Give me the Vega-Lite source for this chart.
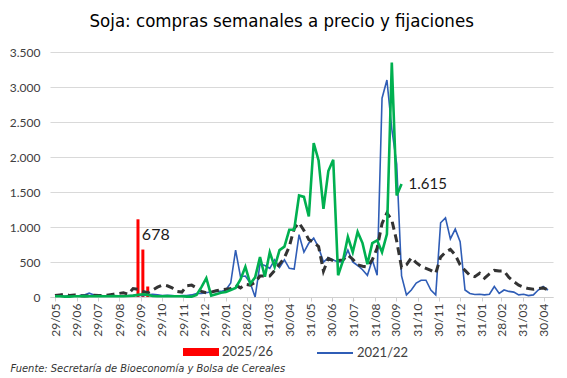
{
  "$schema": "https://vega.github.io/schema/vega-lite/v6.json",
  "width": 503,
  "height": 245,
  "autosize": "none",
  "padding": {"left": 50, "top": 52, "right": 14, "bottom": 81},
  "background": "white",
  "config": {"view": {"stroke": null}},
  "title": {
    "text": "Soja: compras semanales a precio y fijaciones",
    "font": "'DejaVu Sans Condensed', sans-serif",
    "fontSize": 18.5,
    "fontWeight": "normal",
    "color": "#000000",
    "anchor": "middle",
    "frame": "bounds",
    "offset": 16
  },
  "data": {
    "values": [
      {"fecha": "2025-05-29", "c2122": 10, "prom": 20, "c2425": 10},
      {"fecha": "2025-06-05", "c2122": 15, "prom": 30, "c2425": 10},
      {"fecha": "2025-06-12", "c2122": 10, "prom": 40, "c2425": 5},
      {"fecha": "2025-06-19", "c2122": 20, "prom": 20, "c2425": 5},
      {"fecha": "2025-06-26", "c2122": 15, "prom": 30, "c2425": 10},
      {"fecha": "2025-07-03", "c2122": 20, "prom": 20, "c2425": 10},
      {"fecha": "2025-07-10", "c2122": 30, "prom": 15, "c2425": 15},
      {"fecha": "2025-07-17", "c2122": 55, "prom": 20, "c2425": 10},
      {"fecha": "2025-07-24", "c2122": 30, "prom": 25, "c2425": 10},
      {"fecha": "2025-07-31", "c2122": 15, "prom": 20, "c2425": 15},
      {"fecha": "2025-08-07", "c2122": 10, "prom": 20, "c2425": 10},
      {"fecha": "2025-08-14", "c2122": 15, "prom": 30, "c2425": 10},
      {"fecha": "2025-08-21", "c2122": 20, "prom": 40, "c2425": 15},
      {"fecha": "2025-08-28", "c2122": 10, "prom": 50, "c2425": 10},
      {"fecha": "2025-09-04", "c2122": 15, "prom": 60, "c2425": 10},
      {"fecha": "2025-09-11", "c2122": 20, "prom": 40, "c2425": 15},
      {"fecha": "2025-09-18", "c2122": 20, "prom": 120, "c2425": 20, "c2526": 30},
      {"fecha": "2025-09-25", "c2122": 25, "prom": 110, "c2425": 30, "c2526": 1110},
      {"fecha": "2025-10-02", "c2122": 20, "prom": 80, "c2425": 40, "c2526": 678},
      {"fecha": "2025-10-09", "c2122": 30, "prom": 60, "c2425": 30, "c2526": 150},
      {"fecha": "2025-10-16", "c2122": 40, "prom": 100, "c2425": 15},
      {"fecha": "2025-10-23", "c2122": 30, "prom": 140, "c2425": 10},
      {"fecha": "2025-10-30", "c2122": 20, "prom": 170, "c2425": 10},
      {"fecha": "2025-11-06", "c2122": 25, "prom": 160, "c2425": 15},
      {"fecha": "2025-11-13", "c2122": 20, "prom": 130, "c2425": 10},
      {"fecha": "2025-11-20", "c2122": 15, "prom": 80, "c2425": 10},
      {"fecha": "2025-11-27", "c2122": 20, "prom": 70, "c2425": 10},
      {"fecha": "2025-12-04", "c2122": 20, "prom": 160, "c2425": 5},
      {"fecha": "2025-12-11", "c2122": 30, "prom": 170, "c2425": 5},
      {"fecha": "2025-12-18", "c2122": 50, "prom": 130, "c2425": 30},
      {"fecha": "2025-12-25", "c2122": 50, "prom": 80, "c2425": 140},
      {"fecha": "2026-01-01", "c2122": 60, "prom": 60, "c2425": 270},
      {"fecha": "2026-01-08", "c2122": 75, "prom": 70, "c2425": 20},
      {"fecha": "2026-01-15", "c2122": 80, "prom": 90, "c2425": 40},
      {"fecha": "2026-01-22", "c2122": 80, "prom": 100, "c2425": 60},
      {"fecha": "2026-01-29", "c2122": 100, "prom": 110, "c2425": 70},
      {"fecha": "2026-02-05", "c2122": 200, "prom": 120, "c2425": 100},
      {"fecha": "2026-02-12", "c2122": 670, "prom": 170, "c2425": 130},
      {"fecha": "2026-02-19", "c2122": 290, "prom": 130, "c2425": 250},
      {"fecha": "2026-02-26", "c2122": 300, "prom": 180, "c2425": 430},
      {"fecha": "2026-03-05", "c2122": 200, "prom": 170, "c2425": 190},
      {"fecha": "2026-03-12", "c2122": 0, "prom": 210, "c2425": 280},
      {"fecha": "2026-03-19", "c2122": 470, "prom": 300, "c2425": 570},
      {"fecha": "2026-03-26", "c2122": 450, "prom": 300, "c2425": 290},
      {"fecha": "2026-04-02", "c2122": 410, "prom": 300, "c2425": 640},
      {"fecha": "2026-04-09", "c2122": 530, "prom": 380, "c2425": 430},
      {"fecha": "2026-04-16", "c2122": 420, "prom": 470, "c2425": 670},
      {"fecha": "2026-04-23", "c2122": 530, "prom": 560, "c2425": 720},
      {"fecha": "2026-04-30", "c2122": 410, "prom": 720, "c2425": 960},
      {"fecha": "2026-05-07", "c2122": 400, "prom": 980, "c2425": 960},
      {"fecha": "2026-05-14", "c2122": 890, "prom": 1060, "c2425": 1450},
      {"fecha": "2026-05-21", "c2122": 640, "prom": 950, "c2425": 1430},
      {"fecha": "2026-05-28", "c2122": 770, "prom": 820, "c2425": 1150},
      {"fecha": "2026-06-04", "c2122": 840, "prom": 780, "c2425": 2200},
      {"fecha": "2026-06-11", "c2122": 710, "prom": 720, "c2425": 1950},
      {"fecha": "2026-06-18", "c2122": 500, "prom": 370, "c2425": 1260},
      {"fecha": "2026-06-25", "c2122": 560, "prom": 550, "c2425": 1800},
      {"fecha": "2026-07-02", "c2122": 530, "prom": 520, "c2425": 1960},
      {"fecha": "2026-07-09", "c2122": 500, "prom": 520, "c2425": 310},
      {"fecha": "2026-07-16", "c2122": 500, "prom": 530, "c2425": 520},
      {"fecha": "2026-07-23", "c2122": 670, "prom": 600, "c2425": 860},
      {"fecha": "2026-07-30", "c2122": 500, "prom": 540, "c2425": 640},
      {"fecha": "2026-08-06", "c2122": 450, "prom": 460, "c2425": 930},
      {"fecha": "2026-08-13", "c2122": 390, "prom": 440, "c2425": 770},
      {"fecha": "2026-08-20", "c2122": 310, "prom": 430, "c2425": 470},
      {"fecha": "2026-08-27", "c2122": 530, "prom": 530, "c2425": 770},
      {"fecha": "2026-09-03", "c2122": 310, "prom": 700, "c2425": 810},
      {"fecha": "2026-09-10", "c2122": 2840, "prom": 1050, "c2425": 640},
      {"fecha": "2026-09-17", "c2122": 3100, "prom": 1200, "c2425": 900},
      {"fecha": "2026-09-24", "c2122": 2400, "prom": 1100, "c2425": 3350},
      {"fecha": "2026-10-01", "c2122": 1900, "prom": 800, "c2425": 1450},
      {"fecha": "2026-10-08", "c2122": 300, "prom": 420, "c2425": 1615},
      {"fecha": "2026-10-15", "c2122": 30, "prom": 460},
      {"fecha": "2026-10-22", "c2122": 100, "prom": 560},
      {"fecha": "2026-10-29", "c2122": 200, "prom": 490},
      {"fecha": "2026-11-05", "c2122": 240, "prom": 440},
      {"fecha": "2026-11-12", "c2122": 240, "prom": 410},
      {"fecha": "2026-11-19", "c2122": 100, "prom": 380},
      {"fecha": "2026-11-26", "c2122": 30, "prom": 340},
      {"fecha": "2026-12-03", "c2122": 1060, "prom": 570},
      {"fecha": "2026-12-10", "c2122": 1130, "prom": 640},
      {"fecha": "2026-12-17", "c2122": 830, "prom": 680},
      {"fecha": "2026-12-24", "c2122": 970, "prom": 600},
      {"fecha": "2026-12-31", "c2122": 790, "prom": 460},
      {"fecha": "2027-01-07", "c2122": 100, "prom": 380},
      {"fecha": "2027-01-14", "c2122": 50, "prom": 310},
      {"fecha": "2027-01-21", "c2122": 35, "prom": 290},
      {"fecha": "2027-01-28", "c2122": 40, "prom": 340},
      {"fecha": "2027-02-04", "c2122": 30, "prom": 270},
      {"fecha": "2027-02-11", "c2122": 40, "prom": 330},
      {"fecha": "2027-02-18", "c2122": 150, "prom": 380},
      {"fecha": "2027-02-25", "c2122": 50, "prom": 370},
      {"fecha": "2027-03-04", "c2122": 100, "prom": 370},
      {"fecha": "2027-03-11", "c2122": 80, "prom": 280},
      {"fecha": "2027-03-18", "c2122": 70, "prom": 220},
      {"fecha": "2027-03-25", "c2122": 30, "prom": 170},
      {"fecha": "2027-04-01", "c2122": 40, "prom": 140},
      {"fecha": "2027-04-08", "c2122": 20, "prom": 120},
      {"fecha": "2027-04-15", "c2122": 30, "prom": 110},
      {"fecha": "2027-04-22", "c2122": 100, "prom": 120},
      {"fecha": "2027-04-29", "c2122": 150, "prom": 130},
      {"fecha": "2027-05-06", "c2122": 100, "prom": 100}
    ]
  },
  "encoding": {
    "x": {
      "field": "fecha",
      "type": "temporal",
      "scale": {
        "type": "utc",
        "nice": false,
        "domain": [
          {"year": 2025, "month": 5, "date": 29, "utc": true},
          {"year": 2027, "month": 5, "date": 6, "utc": true}
        ]
      },
      "axis": {
        "values": [
          {"year": 2025, "month": 5, "date": 29, "utc": true},
          {"year": 2025, "month": 6, "date": 29, "utc": true},
          {"year": 2025, "month": 7, "date": 29, "utc": true},
          {"year": 2025, "month": 8, "date": 29, "utc": true},
          {"year": 2025, "month": 9, "date": 29, "utc": true},
          {"year": 2025, "month": 10, "date": 29, "utc": true},
          {"year": 2025, "month": 11, "date": 29, "utc": true},
          {"year": 2025, "month": 12, "date": 29, "utc": true},
          {"year": 2026, "month": 1, "date": 29, "utc": true},
          {"year": 2026, "month": 2, "date": 28, "utc": true},
          {"year": 2026, "month": 3, "date": 31, "utc": true},
          {"year": 2026, "month": 4, "date": 30, "utc": true},
          {"year": 2026, "month": 5, "date": 31, "utc": true},
          {"year": 2026, "month": 6, "date": 30, "utc": true},
          {"year": 2026, "month": 7, "date": 31, "utc": true},
          {"year": 2026, "month": 8, "date": 31, "utc": true},
          {"year": 2026, "month": 9, "date": 30, "utc": true},
          {"year": 2026, "month": 10, "date": 31, "utc": true},
          {"year": 2026, "month": 11, "date": 30, "utc": true},
          {"year": 2026, "month": 12, "date": 31, "utc": true},
          {"year": 2027, "month": 1, "date": 31, "utc": true},
          {"year": 2027, "month": 2, "date": 28, "utc": true},
          {"year": 2027, "month": 3, "date": 31, "utc": true},
          {"year": 2027, "month": 4, "date": 30, "utc": true}
        ],
        "labelExpr": "utcFormat(datum.value, '%d/%m')",
        "labelAngle": 270,
        "labelFont": "Lato",
        "labelFontSize": 12,
        "labelColor": "#404040",
        "labelPadding": 2,
        "labelOverlap": false,
        "domainColor": "#d0d0d0",
        "tickColor": "#d0d0d0",
        "tickSize": 4,
        "grid": false,
        "title": "Fuente: Secretaría de Bioeconomía y Bolsa de Cereales",
        "titleFont": "'DejaVu Sans Condensed', sans-serif",
        "titleFontStyle": "italic",
        "titleFontWeight": "normal",
        "titleFontSize": 11,
        "titleColor": "#333333",
        "titleAnchor": "start",
        "titleAlign": "left",
        "titleBaseline": "alphabetic",
        "titleX": -40,
        "titleY": 74
      }
    }
  },
  "layer": [
    {
      "mark": {"type": "bar", "size": 3},
      "encoding": {
        "y": {
          "field": "c2526",
          "type": "quantitative",
          "scale": {"domain": [0, 3500]},
          "axis": {
            "values": [0, 500, 1000, 1500, 2000, 2500, 3000, 3500],
            "labelExpr": "replace(format(datum.value, ','), ',', '.')",
            "labelFont": "Lato",
            "labelFontSize": 12,
            "labelColor": "#404040",
            "labelPadding": 10,
            "labelOverlap": false,
            "domain": false,
            "ticks": false,
            "grid": true,
            "gridColor": "#d9d9d9",
            "title": null
          }
        },
        "color": {
          "datum": "2025/26",
          "scale": {"range": ["#ff0000"]},
          "legend": {
            "orient": "none",
            "legendX": 133,
            "legendY": 282,
            "title": null,
            "symbolType": "M-1,-0.22H1V0.22H-1Z",
            "symbolSize": 1296,
            "symbolStrokeWidth": 0,
            "labelFont": "Lato",
            "labelFontSize": 13,
            "labelColor": "#404040",
            "labelOffset": 3
          }
        }
      }
    },
    {
      "mark": {"type": "line", "strokeWidth": 1.6},
      "encoding": {
        "y": {
          "field": "c2122",
          "type": "quantitative",
          "scale": {"domain": [0, 3500]},
          "axis": {
            "values": [0, 500, 1000, 1500, 2000, 2500, 3000, 3500],
            "labelExpr": "replace(format(datum.value, ','), ',', '.')",
            "labelFont": "Lato",
            "labelFontSize": 12,
            "labelColor": "#404040",
            "labelPadding": 10,
            "labelOverlap": false,
            "domain": false,
            "ticks": false,
            "grid": true,
            "gridColor": "#d9d9d9",
            "title": null
          }
        },
        "stroke": {
          "datum": "2021/22",
          "scale": {"range": ["#2f5db6"]},
          "legend": {
            "orient": "none",
            "legendX": 266,
            "legendY": 282,
            "title": null,
            "symbolType": "stroke",
            "symbolSize": 1296,
            "symbolStrokeWidth": 2,
            "labelFont": "Lato",
            "labelFontSize": 13,
            "labelColor": "#404040",
            "labelOffset": 3
          }
        }
      }
    },
    {
      "mark": {"type": "line", "color": "#333333", "strokeWidth": 3, "strokeDash": [8, 5]},
      "encoding": {
        "y": {
          "field": "prom",
          "type": "quantitative",
          "scale": {"domain": [0, 3500]},
          "axis": {
            "values": [0, 500, 1000, 1500, 2000, 2500, 3000, 3500],
            "labelExpr": "replace(format(datum.value, ','), ',', '.')",
            "labelFont": "Lato",
            "labelFontSize": 12,
            "labelColor": "#404040",
            "labelPadding": 10,
            "labelOverlap": false,
            "domain": false,
            "ticks": false,
            "grid": true,
            "gridColor": "#d9d9d9",
            "title": null
          }
        }
      }
    },
    {
      "mark": {"type": "line", "color": "#00b050", "strokeWidth": 2.6},
      "encoding": {
        "y": {
          "field": "c2425",
          "type": "quantitative",
          "scale": {"domain": [0, 3500]},
          "axis": {
            "values": [0, 500, 1000, 1500, 2000, 2500, 3000, 3500],
            "labelExpr": "replace(format(datum.value, ','), ',', '.')",
            "labelFont": "Lato",
            "labelFontSize": 12,
            "labelColor": "#404040",
            "labelPadding": 10,
            "labelOverlap": false,
            "domain": false,
            "ticks": false,
            "grid": true,
            "gridColor": "#d9d9d9",
            "title": null
          }
        }
      }
    },
    {
      "transform": [{"filter": "datum.c2526 == 678"}],
      "mark": {"type": "text", "text": "678", "align": "left", "baseline": "middle", "font": "Lato", "fontSize": 16, "color": "#1a1a1a", "dx": -1},
      "encoding": {
        "y": {
          "datum": 880,
          "type": "quantitative",
          "scale": {"domain": [0, 3500]},
          "axis": {
            "values": [0, 500, 1000, 1500, 2000, 2500, 3000, 3500],
            "labelExpr": "replace(format(datum.value, ','), ',', '.')",
            "labelFont": "Lato",
            "labelFontSize": 12,
            "labelColor": "#404040",
            "labelPadding": 10,
            "labelOverlap": false,
            "domain": false,
            "ticks": false,
            "grid": true,
            "gridColor": "#d9d9d9",
            "title": null
          }
        }
      }
    },
    {
      "transform": [{"filter": "datum.c2425 == 1615"}],
      "mark": {"type": "text", "text": "1.615", "align": "left", "baseline": "middle", "font": "Lato", "fontSize": 15, "color": "#1a1a1a", "dx": 7},
      "encoding": {
        "y": {
          "field": "c2425",
          "type": "quantitative",
          "scale": {"domain": [0, 3500]},
          "axis": {
            "values": [0, 500, 1000, 1500, 2000, 2500, 3000, 3500],
            "labelExpr": "replace(format(datum.value, ','), ',', '.')",
            "labelFont": "Lato",
            "labelFontSize": 12,
            "labelColor": "#404040",
            "labelPadding": 10,
            "labelOverlap": false,
            "domain": false,
            "ticks": false,
            "grid": true,
            "gridColor": "#d9d9d9",
            "title": null
          }
        }
      }
    }
  ]
}
